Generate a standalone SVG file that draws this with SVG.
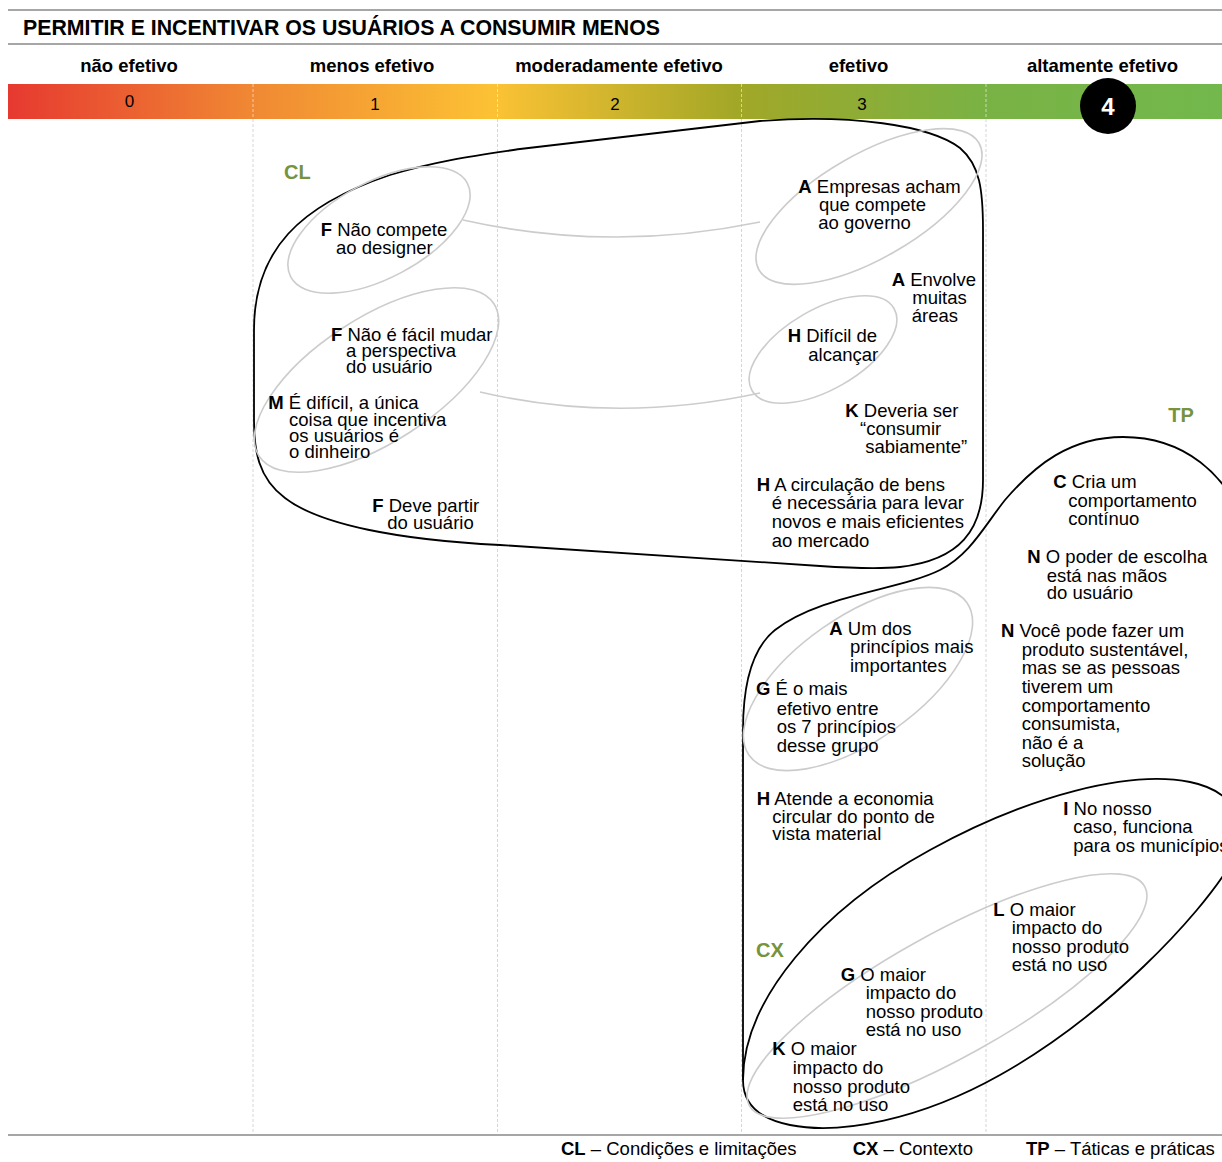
<svg xmlns="http://www.w3.org/2000/svg" width="1222" height="1162" viewBox="0 0 1222 1162">
  <defs>
    <linearGradient id="scale" x1="8" y1="0" x2="1222" y2="0" gradientUnits="userSpaceOnUse">
      <stop offset="0" stop-color="#e63930"/>
      <stop offset="0.2" stop-color="#f08833"/>
      <stop offset="0.4" stop-color="#fcc234"/>
      <stop offset="0.6" stop-color="#a2a727"/>
      <stop offset="0.8" stop-color="#7ab244"/>
      <stop offset="1" stop-color="#72b84c"/>
    </linearGradient>
  </defs>
  <style>
    text { font-family: "Liberation Sans", Arial, sans-serif; fill: #000; }
    .title { font-size: 21.3px; font-weight: bold; }
    .head { font-size: 18.5px; font-weight: bold; text-anchor: middle; }
    .num { font-size: 17px; text-anchor: middle; }
    .t { font-size: 18.5px; }
    .b { font-weight: bold; }
    .grp { font-size: 20px; font-weight: bold; fill: #77933c; }
    .rule { stroke: #a6a6a6; stroke-width: 2; fill: none; }
    .grid { stroke: #d6d6d6; stroke-width: 1; stroke-dasharray: 3 2; fill: none; }
    .grid-bar { stroke: #ffffff; stroke-opacity: 0.55; stroke-width: 1; stroke-dasharray: 3 2; fill: none; }
    .region { stroke: #000; stroke-width: 1.8; fill: none; }
    .cluster { stroke: #cccccc; stroke-width: 1.6; fill: none; }
    .link { stroke: #cccccc; stroke-width: 1.6; fill: none; }
  </style>

  <rect width="1222" height="1162" fill="#fff"/>

  <!-- header rules and title -->
  <line class="rule" x1="8" y1="10" x2="1222" y2="10"/>
  <text class="title" x="23" y="35">PERMITIR E INCENTIVAR OS USUÁRIOS A CONSUMIR MENOS</text>
  <line class="rule" x1="8" y1="44" x2="1222" y2="44"/>

  <!-- effectiveness scale -->
  <g id="scale-labels">
    <text class="head" x="129" y="72">não efetivo</text>
    <text class="head" x="372" y="72">menos efetivo</text>
    <text class="head" x="619" y="72">moderadamente efetivo</text>
    <text class="head" x="858.5" y="72">efetivo</text>
    <text class="head" x="1102.5" y="72">altamente efetivo</text>
  </g>
  <rect id="scale-bar" x="8" y="84" width="1214" height="35" fill="url(#scale)"/>
  <g id="scale-grid">
    <line class="grid-bar" x1="253" y1="84" x2="253" y2="119"/>
    <line class="grid-bar" x1="497.5" y1="84" x2="497.5" y2="119"/>
    <line class="grid-bar" x1="741.5" y1="84" x2="741.5" y2="119"/>
    <line class="grid-bar" x1="986" y1="84" x2="986" y2="119"/>
    <line class="grid" x1="253" y1="119" x2="253" y2="1134"/>
    <line class="grid" x1="497.5" y1="119" x2="497.5" y2="1134"/>
    <line class="grid" x1="741.5" y1="119" x2="741.5" y2="1134"/>
    <line class="grid" x1="986" y1="119" x2="986" y2="1134"/>
  </g>
  <g id="scale-values">
    <text class="num" x="129.5" y="107">0</text>
    <text class="num" x="375" y="110">1</text>
    <text class="num" x="615" y="110">2</text>
    <text class="num" x="862" y="110">3</text>
  </g>
  <g id="score">
    <circle cx="1108" cy="106" r="28" fill="#000"/>
    <text x="1108" y="115" text-anchor="middle" style="font-size:24px;font-weight:bold;fill:#fff">4</text>
  </g>

  <!-- group outlines -->
  <g id="region-cl">
    <path class="region" d="M254,330 C254,250 300,205 390,175 C440,160 480,155 520,149 L760,121 C850,114 930,125 960,148 C980,165 983,190 983,230 L983,480 C983,530 960,560 900,567 C880,569 850,568 820,566 L500,545 C400,540 320,525 285,498 C258,478 254,450 254,420 Z"/>
    <text class="grp" x="284" y="179.3">CL</text>
  </g>
  <g id="region-tp">
    <path class="region" d="M1250,540 C1230,470 1180,437 1123,437 C1070,437 1035,465 1005,500 C985,525 970,555 940,570 C900,590 820,595 775,630 C750,650 743,690 743,730 L743,1080"/>
    <text class="grp" x="1168.3" y="421.7">TP</text>
  </g>
  <g id="region-cx">
    <path class="region" d="M743,1080 C743,1000 820,910 930,850 C1030,795 1130,770 1190,782 C1240,792 1250,830 1230,865 C1200,915 1107,1015 1000,1075 C920,1120 840,1135 790,1125 C755,1118 743,1100 743,1080 Z"/>
    <text class="grp" x="756" y="957.3">CX</text>
  </g>

  <!-- clusters of related statements -->
  <g id="cluster-1"><ellipse class="cluster" cx="379" cy="230" rx="100" ry="48" transform="rotate(-28 379 230)"/></g>
  <g id="cluster-2"><ellipse class="cluster" cx="376.5" cy="380" rx="140" ry="62" transform="rotate(-33 376.5 380)"/></g>
  <g id="cluster-3"><ellipse class="cluster" cx="869" cy="206.5" rx="127" ry="52" transform="rotate(-30 869 206.5)"/></g>
  <g id="cluster-4"><ellipse class="cluster" cx="823" cy="349.5" rx="82" ry="40" transform="rotate(-30 823 349.5)"/></g>
  <g id="cluster-5"><ellipse class="cluster" cx="858" cy="679" rx="133" ry="62" transform="rotate(-35 858 679)"/></g>
  <g id="cluster-6"><ellipse class="cluster" cx="947" cy="996" rx="226" ry="62" transform="rotate(-29 947 996)"/></g>

  <!-- connectors between clusters -->
  <g id="connectors">
    <path class="link" d="M463,220 Q610,253 760,222"/>
    <path class="link" d="M480,392 Q617,424 760,393"/>
  </g>

  <!-- statements -->
  <g id="s-f-nao-compete">
    <text class="t" x="320.7" y="235.7"><tspan class="b">F</tspan> Não compete<tspan x="336" y="254.3">ao designer</tspan></text>
  </g>
  <g id="s-f-nao-facil">
    <text class="t" x="331" y="340.7"><tspan class="b">F</tspan> Não é fácil mudar<tspan x="346" y="357.3">a perspectiva</tspan><tspan x="346" y="373.3">do usuário</tspan></text>
  </g>
  <g id="s-m-dificil">
    <text class="t" x="268.3" y="409.3"><tspan class="b">M</tspan> É difícil, a única<tspan x="289" y="426">coisa que incentiva</tspan><tspan x="289" y="441.7">os usuários é</tspan><tspan x="289" y="458.3">o dinheiro</tspan></text>
  </g>
  <g id="s-f-deve-partir">
    <text class="t" x="372.3" y="511.7"><tspan class="b">F</tspan> Deve partir<tspan x="387.3" y="529">do usuário</tspan></text>
  </g>
  <g id="s-a-empresas">
    <text class="t" x="798.3" y="193.3"><tspan class="b">A</tspan> Empresas acham<tspan x="819" y="210.7">que compete</tspan><tspan x="818.3" y="229.3">ao governo</tspan></text>
  </g>
  <g id="s-a-envolve">
    <text class="t" x="891.7" y="286"><tspan class="b">A</tspan> Envolve<tspan x="912.3" y="304.3">muitas</tspan><tspan x="911.7" y="322.3">áreas</tspan></text>
  </g>
  <g id="s-h-dificil">
    <text class="t" x="787.7" y="342.3"><tspan class="b">H</tspan> Difícil de<tspan x="808.3" y="360.7">alcançar</tspan></text>
  </g>
  <g id="s-k-deveria">
    <text class="t" x="845.3" y="416.7"><tspan class="b">K</tspan> Deveria ser<tspan x="860" y="435">“consumir</tspan><tspan x="865.3" y="453.3">sabiamente”</tspan></text>
  </g>
  <g id="s-h-circulacao">
    <text class="t" x="756.7" y="490.7"><tspan class="b">H</tspan> A circulação de bens<tspan x="771.7" y="509.3">é necessária para levar</tspan><tspan x="771.7" y="528.3">novos e mais eficientes</tspan><tspan x="771.7" y="546.7">ao mercado</tspan></text>
  </g>
  <g id="s-c-cria">
    <text class="t" x="1053.3" y="488.3"><tspan class="b">C</tspan> Cria um<tspan x="1068.3" y="506.7">comportamento</tspan><tspan x="1068.3" y="525">contínuo</tspan></text>
  </g>
  <g id="s-n-poder">
    <text class="t" x="1027.3" y="563.3"><tspan class="b">N</tspan> O poder de escolha<tspan x="1046.7" y="581.7">está nas mãos</tspan><tspan x="1046.7" y="599.3">do usuário</tspan></text>
  </g>
  <g id="s-a-um-dos">
    <text class="t" x="829.3" y="635"><tspan class="b">A</tspan> Um dos<tspan x="850" y="653.3">princípios mais</tspan><tspan x="850" y="671.7">importantes</tspan></text>
  </g>
  <g id="s-g-mais-efetivo">
    <text class="t" x="756" y="695"><tspan class="b">G</tspan> É o mais<tspan x="776.7" y="715">efetivo entre</tspan><tspan x="776.7" y="733.3">os 7 princípios</tspan><tspan x="776.7" y="751.7">desse grupo</tspan></text>
  </g>
  <g id="s-n-voce-pode">
    <text class="t" x="1001" y="637.3"><tspan class="b">N</tspan> Você pode fazer um<tspan x="1021.7" y="655.7">produto sustentável,</tspan><tspan x="1021.7" y="674.3">mas se as pessoas</tspan><tspan x="1021.7" y="693.3">tiverem um</tspan><tspan x="1021.7" y="711.7">comportamento</tspan><tspan x="1021.7" y="730">consumista,</tspan><tspan x="1021.7" y="749.3">não é a</tspan><tspan x="1021.7" y="767.3">solução</tspan></text>
  </g>
  <g id="s-h-atende">
    <text class="t" x="756.7" y="805"><tspan class="b">H</tspan> Atende a economia<tspan x="772.3" y="823.3">circular do ponto de</tspan><tspan x="772.3" y="840">vista material</tspan></text>
  </g>
  <g id="s-i-nosso-caso">
    <text class="t" x="1063.3" y="815"><tspan class="b">I</tspan> No nosso<tspan x="1073.3" y="832.7">caso, funciona</tspan><tspan x="1073.3" y="851.7">para os municípios</tspan></text>
  </g>
  <g id="s-l-maior-impacto">
    <text class="t" x="993.3" y="916"><tspan class="b">L</tspan> O maior<tspan x="1011.7" y="934">impacto do</tspan><tspan x="1011.7" y="952.7">nosso produto</tspan><tspan x="1011.7" y="971">está no uso</tspan></text>
  </g>
  <g id="s-g-maior-impacto">
    <text class="t" x="840.7" y="980.7"><tspan class="b">G</tspan> O maior<tspan x="865.7" y="999">impacto do</tspan><tspan x="865.7" y="1018.3">nosso produto</tspan><tspan x="865.7" y="1036">está no uso</tspan></text>
  </g>
  <g id="s-k-maior-impacto">
    <text class="t" x="772.3" y="1055"><tspan class="b">K</tspan> O maior<tspan x="792.7" y="1074.3">impacto do</tspan><tspan x="792.7" y="1092.7">nosso produto</tspan><tspan x="792.7" y="1110.7">está no uso</tspan></text>
  </g>

  <!-- footer rule and legend -->
  <line class="rule" x1="8" y1="1135" x2="1222" y2="1135"/>
  <g id="legend">
    <text class="t" x="561" y="1155"><tspan class="b">CL</tspan> – Condições e limitações</text>
    <text class="t" x="852.7" y="1155"><tspan class="b">CX</tspan> – Contexto</text>
    <text class="t" x="1026" y="1155"><tspan class="b">TP</tspan> – Táticas e práticas</text>
  </g>
</svg>
